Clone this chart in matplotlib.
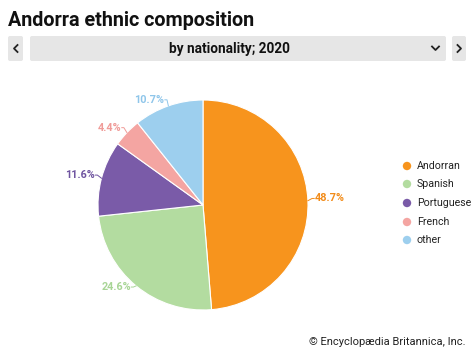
import matplotlib.pyplot as plt
from matplotlib.patches import FancyBboxPatch, Circle
import numpy as np

# data
groups = ['Andorran', 'Spanish', 'Portuguese', 'French', 'other']
shares = [48.7, 24.6, 11.6, 4.4, 10.7]
colors = ['#f7941d', '#b3dca0', '#7a5ba8', '#f4a5a2', '#9dcfee']
label_colors = ['#f28c1a', '#a8d596', '#6f54a0', '#f09b98', '#8fc6ea']

W, H = 474, 355
fig = plt.figure(figsize=(W / 100, H / 100), dpi=100)
fig.patch.set_facecolor('white')
plt.rcParams['font.family'] = ['Roboto', 'DejaVu Sans']


def fx(px):
    return px / W


def fy(py):
    return 1 - py / H


# title
fig.text(fx(8), fy(20), 'Andorra ethnic composition', fontsize=14.2, fontweight='bold',
         va='center', ha='left', color='#111111')

# selector bar
bar_ax = fig.add_axes([0, 0, 1, 1])
bar_ax.set_xlim(0, W)
bar_ax.set_ylim(H, 0)
bar_ax.axis('off')
bar_ax.add_patch(FancyBboxPatch((8, 36), 15, 25, boxstyle='round,pad=0,rounding_size=2',
                                fc='#e6e6e6', ec='none'))
bar_ax.add_patch(FancyBboxPatch((30, 36), 416, 25, boxstyle='round,pad=0,rounding_size=2',
                                fc='#e6e6e6', ec='none'))
bar_ax.add_patch(FancyBboxPatch((452, 36), 14, 25, boxstyle='round,pad=0,rounding_size=2',
                                fc='#e6e6e6', ec='none'))
bar_ax.plot([17.5, 14, 17.5], [45, 48.5, 52], color='#222222', lw=1.3)
bar_ax.plot([457.5, 461, 457.5], [45, 48.5, 52], color='#222222', lw=1.3)
bar_ax.plot([432, 435.5, 439], [46.5, 50, 46.5], color='#222222', lw=1.3)
bar_ax.text(229, 48.5, 'by nationality; 2020', fontsize=9.8, fontweight='bold',
            ha='center', va='center', color='#111111')

# legend
leg_y = [166, 184, 203, 222, 240]
for name, c, yy in zip(groups, colors, leg_y):
    bar_ax.add_patch(Circle((407, yy), 4.2, fc=c, ec='none'))
    bar_ax.text(417, yy, name, fontsize=7.7, ha='left', va='center', color='#222222')

# copyright
bar_ax.text(466, 342, '\u00a9 Encyclop\u00e6dia Britannica, Inc.', fontsize=8,
            ha='right', va='center', color='#222222')

# pie
cx, cy, r = 203, 205, 105
ax = fig.add_axes([fx(cx - r), fy(cy + r), 2 * r / W, 2 * r / H])
wedges, _ = ax.pie(shares, colors=colors, startangle=90, counterclock=False,
                   wedgeprops=dict(edgecolor='white', linewidth=0.8))
ax.set_xlim(-1, 1)
ax.set_ylim(-1, 1)
ax.set_aspect('auto')

for w, val, lc in zip(wedges, shares, label_colors):
    ang = np.deg2rad((w.theta1 + w.theta2) / 2)
    x0, y0 = np.cos(ang), np.sin(ang)
    x1, y1 = 1.04 * x0, 1.04 * y0 + 0.02
    ha = 'left' if x0 > 0 else 'right'
    xt = x1 + (0.02 if x0 > 0 else -0.02)
    ax.plot([x0, x1, xt], [y0, y1, y1], color=lc, lw=0.7, clip_on=False)
    ax.text(xt + (0.005 if x0 > 0 else -0.005), y1, f'{val}%', fontsize=7.8,
            fontweight='bold', color=lc, ha=ha, va='center', clip_on=False)

fig.savefig('out.png', dpi=100)
